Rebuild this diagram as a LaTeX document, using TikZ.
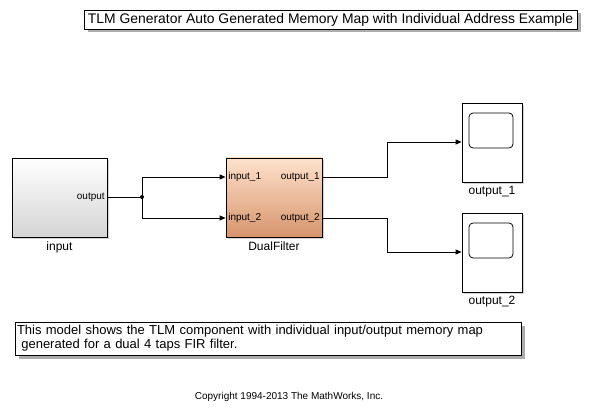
\documentclass[tikz,border=0pt]{standalone}
\usepackage{fontspec}
\setmainfont{Liberation Sans}
\usepackage{tikz}
\usetikzlibrary{arrows.meta,positioning,shadows,calc}

\definecolor{filttop}{RGB}{255,226,204}
\definecolor{filtbot}{RGB}{214,148,108}
\definecolor{blkbot}{RGB}{212,212,212}

\begin{document}
\begin{tikzpicture}[
  x=1pt, y=-1pt,
  blk/.style={draw, line width=0.8pt, inner sep=0pt,
    drop shadow={shadow xshift=2pt, shadow yshift=-2pt, opacity=0.35}},
  srcblk/.style={blk, top color=white, bottom color=blkbot,
    minimum width=95pt, minimum height=79pt},
  filtblk/.style={blk, top color=filttop, bottom color=filtbot,
    minimum width=96pt, minimum height=79pt},
  scopeblk/.style={blk, fill=white, minimum width=60pt, minimum height=79pt},
  screen/.style={draw, line width=0.8pt, rounded corners=4pt,
    minimum width=44pt, minimum height=35pt},
  port/.style={font=\fontsize{10}{12}\selectfont, inner sep=2.5pt},
  blkname/.style={font=\fontsize{12}{14}\selectfont, inner sep=1pt},
  textbox/.style={draw, fill=white, line width=0.8pt, inner sep=2pt,
    drop shadow={shadow xshift=3.5pt, shadow yshift=-3.5pt, opacity=0.65}},
  arr/.style={-{Triangle[length=6pt, width=5pt]}, line width=0.8pt},
  wire/.style={line width=0.8pt},
]
\useasboundingbox (0,0) rectangle (589,417);

% annotations
\node[textbox, font=\fontsize{13.9}{15}\selectfont,
  minimum width=493pt, minimum height=19pt] (title) at (330.5,19.5)
  {TLM Generator Auto Generated Memory Map with Individual Address Example};
\node[textbox, font=\fontsize{13}{14}\selectfont,
  text width=502pt, align=left, minimum height=33pt] (note) at (268,338.5)
  {This model shows the TLM component with individual input/output memory map\\
   \ generated for a dual 4 taps FIR filter.};
\node[font=\fontsize{10}{12}\selectfont] (copy) at (289,397)
  {Copyright 1994-2013 The MathWorks, Inc.};

% blocks
\node[srcblk] (src) at (59.5,197.5) {};
\node[port, anchor=east] (src_out) at (src.east |- 0,197) {output};
\node[blkname, below=3pt of src] (src_name) {input};

\node[filtblk] (filt) at (274,197.5) {};
\node[port, anchor=west] (filt_in1) at (filt.west |- 0,177) {input\_1};
\node[port, anchor=west] (filt_in2) at (filt.west |- 0,218) {input\_2};
\node[port, anchor=east] (filt_out1) at (filt.east |- 0,177) {output\_1};
\node[port, anchor=east] (filt_out2) at (filt.east |- 0,218) {output\_2};
\node[blkname, below=3pt of filt] (filt_name) {DualFilter};

\node[scopeblk] (scope1) at (492,142.5) {};
\node[screen] (screen1) at (491,130.5) {};
\node[blkname, below=3pt of scope1] (scope1_name) {output\_1};

\node[scopeblk] (scope2) at (492,252.5) {};
\node[screen] (screen2) at (491,240.5) {};
\node[blkname, below=3pt of scope2] (scope2_name) {output\_2};

% signal lines
\coordinate (split) at (142,197);
\draw[wire] (src.east |- split) -- (split);
\fill (split) circle (2pt);
\draw[arr] (split) |- (filt.west |- filt_in1);
\draw[arr] (split) |- (filt.west |- filt_in2);
\draw[arr] (filt.east |- filt_out1) -- (387,177) |- (scope1.west |- 0,142);
\draw[arr] (filt.east |- filt_out2) -- (387,218) |- (scope2.west |- 0,252);

\end{tikzpicture}
\end{document}
